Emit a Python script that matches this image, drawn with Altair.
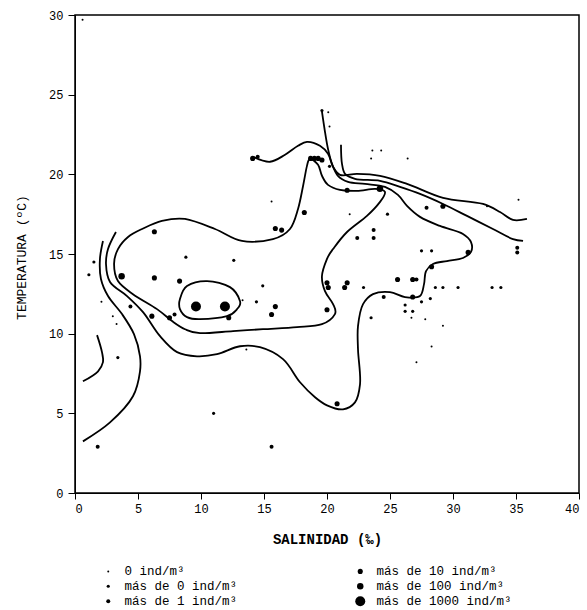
import altair as alt
import pandas as pd

# ---------------- data ----------------
CATEGORIES = ["0 ind/m³", "más de 0 ind/m³", "más de 1 ind/m³",
              "más de 10 ind/m³", "más de 100 ind/m³", "más de 1000 ind/m³"]
SYMBOL_SIZES = [4, 10, 16, 26, 42, 100]

SALINIDAD = [0.6, 6.3, 8.8, 12.6, 1.5, 1.1, 3.7, 6.3, 8.3, 2.1,
             9.6, 11.9, 4.4, 12.2, 3.0, 3.3, 6.1, 7.5, 7.9, 3.4,
             1.8, 11.0, 15.6, 14.9, 14.4, 15.9, 15.6, 13.3, 13.6, 14.1,
             14.5, 19.6, 20.1, 20.2, 18.7, 19.0, 19.3, 19.6, 20.2, 21.6,
             24.2, 23.6, 24.3, 23.5, 26.4, 15.6, 18.2, 15.9, 16.4, 21.8,
             24.8, 22.4, 23.7, 23.7, 27.9, 29.2, 32.7, 35.2, 35.1, 35.1,
             31.2, 27.5, 28.3, 28.3, 25.6, 26.8, 27.1, 28.6, 29.2, 30.4,
             33.1, 33.8, 26.8, 28.2, 27.5, 26.2, 26.2, 26.8, 26.7, 27.8,
             29.2, 28.3, 27.1, 24.5, 20.0, 20.1, 21.6, 21.4, 22.9, 20.0,
             23.5, 20.8]
TEMPERATURA = [29.7, 16.4, 14.8, 14.6, 14.5, 13.7, 13.6, 13.5, 13.3, 12.0,
               11.7, 11.7, 11.7, 11.0, 11.1, 10.6, 11.1, 11.0, 11.2, 8.5,
               2.9, 5.0, 2.9, 13.0, 12.0, 11.7, 11.2, 12.1, 9.0, 21.0,
               21.1, 24.0, 23.9, 23.0, 21.0, 21.0, 21.0, 20.9, 20.5, 19.0,
               19.1, 21.5, 21.5, 21.0, 21.0, 18.3, 17.6, 16.6, 16.5, 17.5,
               17.5, 16.0, 16.5, 16.0, 17.9, 18.0, 18.0, 18.4, 15.4, 15.1,
               15.1, 15.2, 15.2, 14.2, 13.4, 13.4, 13.4, 12.9, 12.9, 12.9,
               12.9, 12.9, 12.3, 12.2, 12.0, 11.8, 11.4, 11.4, 11.0, 10.9,
               10.5, 9.2, 8.2, 12.3, 13.2, 12.9, 13.2, 12.9, 12.9, 11.5,
               11.0, 5.6]
CLASE = [0, 3, 1, 1, 1, 1, 4, 3, 3, 0,
         5, 5, 2, 3, 0, 0, 3, 3, 2, 1,
         2, 1, 2, 1, 1, 3, 3, 0, 0, 3,
         2, 1, 0, 0, 3, 3, 3, 3, 1, 3,
         4, 0, 0, 0, 0, 0, 3, 3, 3, 0,
         1, 2, 2, 2, 2, 3, 0, 0, 2, 2,
         3, 1, 1, 3, 3, 3, 2, 1, 1, 1,
         1, 1, 3, 1, 1, 1, 1, 1, 0, 0,
         0, 0, 0, 2, 3, 3, 3, 3, 1, 3,
         1, 3]

# contour lines (open)
T_X = [14.13, 15.48, 16.67, 17.70, 18.41, 19.44, 20.08, 20.48, 21.03, 22.38,
       24.21, 26.35, 29.21, 32.38, 33.73, 34.76, 35.87]
T_Y = [21.10, 20.79, 21.23, 21.79, 22.04, 21.79, 21.29, 20.47, 19.97, 20.03,
       19.91, 19.40, 18.52, 18.14, 17.64, 17.14, 17.20]
V_X = [21.11, 21.19, 21.43, 22.22, 24.21, 25.79, 27.38, 29.21, 31.11, 33.17, 34.76, 35.56]
V_Y = [21.86, 20.66, 20.03, 19.72, 19.59, 19.21, 18.77, 18.14, 17.39, 16.57, 15.94, 15.82]
C_X = [3.25, 2.62, 2.46, 2.78, 4.13, 5.40, 6.75, 8.10, 9.68, 11.27,
       13.10, 14.68, 16.51, 17.86, 19.05, 20.00, 21.27, 22.22, 22.62, 22.46,
       22.46, 22.86, 23.65, 25.00, 26.19, 27.38, 27.70, 27.86, 28.41, 29.52,
       30.79, 31.43, 31.43, 30.79, 28.97, 27.38, 26.35, 25.63, 24.60, 23.02,
       21.67, 20.87, 20.40, 20.08, 19.84, 19.60]
C_Y = [16.38, 15.31, 14.37, 13.24, 12.36, 11.35, 9.84, 8.84, 8.58, 8.71,
       9.21, 9.15, 8.40, 6.95, 6.01, 5.50, 5.25, 5.69, 6.82, 9.02,
       10.47, 11.85, 12.48, 12.61, 12.30, 12.36, 13.11, 13.93, 14.37, 14.56,
       14.75, 15.13, 15.75, 16.26, 16.76, 17.33, 18.02, 18.71, 19.21, 19.40,
       19.53, 19.91, 20.66, 21.60, 22.67, 23.93]
L1_X = [2.22, 1.98, 2.06, 2.62, 3.73, 4.68, 5.16, 5.16, 4.60, 2.78, 0.63]
L1_Y = [15.82, 14.69, 13.43, 12.36, 11.23, 9.97, 8.58, 7.64, 6.07, 4.43, 3.24]
L2_X = [1.75, 2.14, 2.22, 1.83, 0.63]
L2_Y = [9.91, 8.84, 8.21, 7.64, 7.01]

# contour lines (closed)
E_X = [18.65, 19.29, 19.60, 20.08, 21.03, 22.38, 23.81, 24.60, 24.21, 23.17,
       21.59, 20.48, 20.00, 19.60, 19.84, 20.48, 20.63, 19.60, 17.62, 14.92,
       12.54, 9.92, 8.73, 7.70, 6.51, 4.60, 3.41, 3.10, 3.41, 4.21,
       5.32, 6.90, 8.73, 11.11, 13.25, 15.71, 17.06, 17.70, 18.10, 18.41]
E_Y = [20.97, 20.60, 19.91, 19.34, 19.03, 18.96, 19.09, 18.90, 18.27, 17.39,
       16.38, 15.31, 14.69, 13.62, 12.67, 11.86, 11.23, 10.60, 10.41, 10.28,
       10.16, 10.03, 10.28, 10.79, 11.54, 12.48, 13.30, 14.37, 15.31, 16.07,
       16.57, 17.08, 17.20, 16.57, 15.82, 15.94, 16.57, 17.83, 19.27, 20.53]
O_X = [8.33, 8.89, 10.48, 12.30, 13.10, 12.86, 12.06, 9.92, 8.89, 8.33]
O_Y = [12.17, 12.99, 13.30, 12.92, 12.04, 11.54, 11.10, 10.91, 11.04, 11.54]

# ---------------- tables ----------------
puntos = pd.DataFrame({
    "sal": SALINIDAD,
    "temp": TEMPERATURA,
    "clase": [CATEGORIES[c] for c in CLASE],
    "area": [SYMBOL_SIZES[c] for c in CLASE],
})


def build(lines):
    rows = []
    for name, (xs, ys) in lines.items():
        for i, (x, y) in enumerate(zip(xs, ys)):
            rows.append({"linea": name, "i": i, "sal": x, "temp": y})
    return pd.DataFrame(rows)


abiertas = build({"T": (T_X, T_Y), "V": (V_X, V_Y), "C": (C_X, C_Y),
                  "L1": (L1_X, L1_Y), "L2": (L2_X, L2_Y)})
cerradas = build({"E": (E_X, E_Y), "O": (O_X, O_Y)})

FONT = "Liberation Mono"

label_map = "{" + ", ".join(f"'{s}': '{c}'" for s, c in zip(SYMBOL_SIZES, CATEGORIES)) + "}"

x_enc = alt.X("sal:Q", scale=alt.Scale(domain=[0, 40], nice=False),
              axis=alt.Axis(values=list(range(0, 41, 5)), title="SALINIDAD (‰)",
                            grid=False, domainColor="black", tickColor="black",
                            tickSize=6, labelFont=FONT, labelFontSize=12,
                            labelColor="black", labelPadding=4,
                            titleFont=FONT, titleFontSize=14, titleFontWeight="bold",
                            titleColor="black", titleY=46, titleBaseline="middle"))
y_enc = alt.Y("temp:Q", scale=alt.Scale(domain=[0, 30], nice=False),
              axis=alt.Axis(values=list(range(0, 31, 5)), title="TEMPERATURA (ºC)",
                            grid=False, domainColor="black", tickColor="black",
                            tickSize=7, labelFont=FONT, labelFontSize=12,
                            labelColor="black", labelPadding=5,
                            titleFont=FONT, titleFontSize=13, titleFontWeight="normal",
                            titleColor="black", titleX=-54, titleY=242,
                            titleAlign="center", titleBaseline="middle"))

lineas_a = alt.Chart(abiertas).mark_line(
    interpolate="catmull-rom", color="black", strokeWidth=1.8
).encode(x=x_enc, y=y_enc, detail="linea:N", order="i:Q")

lineas_c = alt.Chart(cerradas).mark_line(
    interpolate="cardinal-closed", color="black", strokeWidth=1.8
).encode(x=x_enc, y=y_enc, detail="linea:N", order="i:Q")

pts = alt.Chart(puntos).mark_circle(color="black", opacity=1).encode(
    x=x_enc, y=y_enc,
    size=alt.Size("area:Q",
                  scale=alt.Scale(type="linear", domain=[0, 100], range=[0, 100], zero=True),
                  legend=alt.Legend(title=None, orient="none", legendX=27, legendY=550,
                                    type="symbol", values=SYMBOL_SIZES,
                                    labelExpr=label_map + "[datum.label]",
                                    columns=2, columnPadding=94, rowPadding=2,
                                    gridAlign="all", symbolType="circle",
                                    symbolFillColor="black", symbolStrokeColor="black",
                                    symbolStrokeWidth=0, labelFont=FONT,
                                    labelFontSize=12.5, labelColor="black",
                                    labelOffset=10)),
    tooltip=["clase:N"],
)

chart = alt.layer(lineas_a, lineas_c, pts).properties(
    width=504, height=478,
    padding={"left": 75, "top": 15, "right": 8, "bottom": 117},
    autosize=alt.AutoSizeParams(type="none"),
    background="white",
).configure_view(stroke="black", strokeWidth=1.5)

chart.save("out.html", embed_options={"renderer": "svg", "actions": False})
